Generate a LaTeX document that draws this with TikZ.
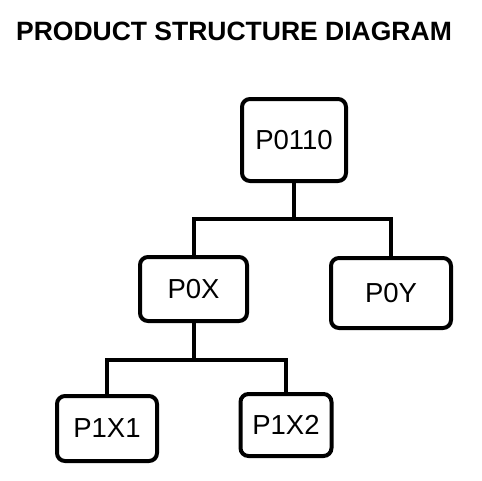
\documentclass[tikz,border=0pt]{standalone}
\usepackage{fontspec}
\setmainfont{Liberation Sans}
\begin{document}
\begin{tikzpicture}[x=1pt,y=-1pt,
  part/.style={draw=black, line width=4pt, rounded corners=8pt, inner sep=0pt, fill=white,
    font=\fontsize{27.5}{30}\selectfont},
  link/.style={draw=black, line width=4pt}]
\useasboundingbox[fill=white] (0,0) rectangle (482,480);
\node[anchor=base, font=\fontsize{26.5}{30}\selectfont\bfseries] (title) at (234,40) {PRODUCT STRUCTURE DIAGRAM};
\node[part, minimum width=104pt, minimum height=82pt] (root) at (294,140) {P0110};
\node[part, minimum width=107pt, minimum height=64pt] (p0x) at (193.5,289) {P0X};
\node[part, minimum width=120pt, minimum height=70pt] (p0y) at (391,293) {P0Y};
\node[part, minimum width=100pt, minimum height=65pt] (p1x1) at (107,428.5) {P1X1};
\node[part, minimum width=91pt, minimum height=62pt] (p1x2) at (286,425) {P1X2};
\coordinate (j1) at (294,219);
\coordinate (j2) at (193.5,360);
\draw[link] (root.south) -- (j1);
\draw[link] (p0x.north) |- (j1) -| (p0y.north);
\draw[link] (p0x.south) -- (j2);
\draw[link] (p1x1.north) |- (j2) -| (p1x2.north);
\end{tikzpicture}
\end{document}
